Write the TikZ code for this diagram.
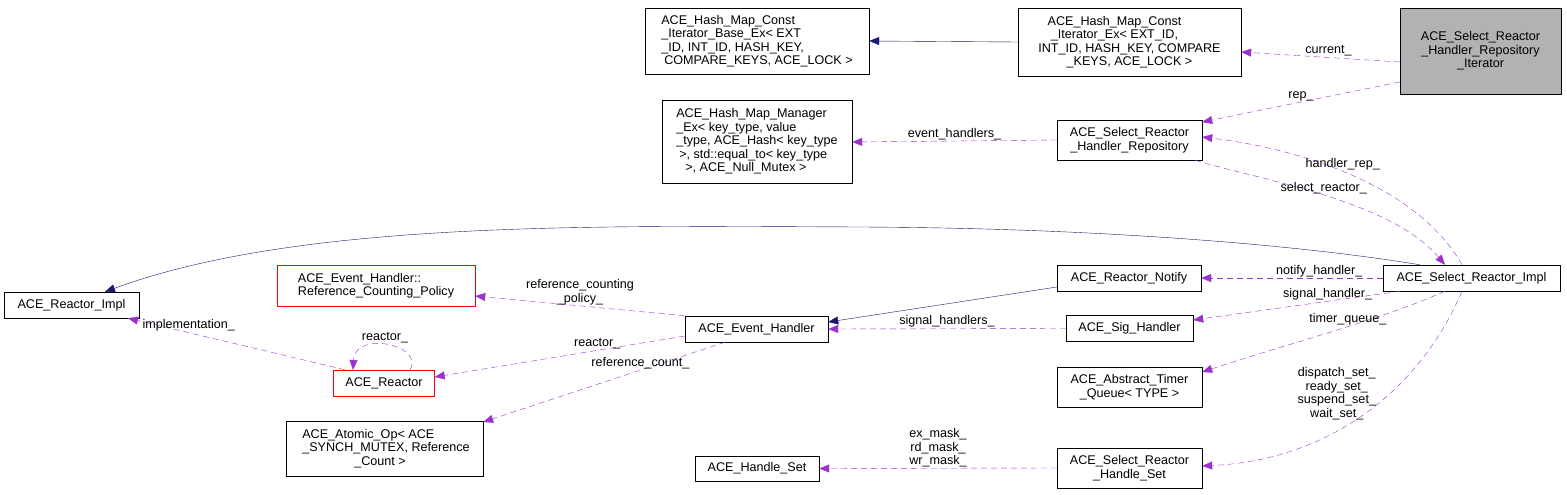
\documentclass[tikz,border=0pt]{standalone}
\usepackage{fontspec}
\setmainfont{Liberation Sans}
\usetikzlibrary{arrows.meta}
\definecolor{pur}{HTML}{9A32CD}
\definecolor{nav}{HTML}{191970}
\newcommand{\lsp}{\hspace*{3pt}}
\begin{document}
\begin{tikzpicture}[x=1pt,y=-1pt,
  box/.style={draw,fill=white,align=center,inner sep=1pt,font=\fontsize{12.6}{13.5}\selectfont},
  lbox/.style={box,align=left},
  use/.style={draw=pur,dashed,dash pattern=on 6pt off 4pt,-{Triangle[length=10pt,width=8pt]}},
  inh/.style={draw=nav,-{Triangle[length=10pt,width=8pt]}},
  lab/.style={font=\fontsize{12.6}{13.5}\selectfont,align=center,inner sep=1pt}]
\useasboundingbox (0,0) rectangle (1567,495);
\node[lbox,minimum width=224,minimum height=66] (hmcib) at (757,41) {ACE\_Hash\_Map\_Const\\\_Iterator\_Base\_Ex< EXT\\\_ID, INT\_ID, HASH\_KEY,\\\lsp COMPARE\_KEYS, ACE\_LOCK >};
\node[box,minimum width=223,minimum height=68] (hmci) at (1129.5,42) {\hspace*{-30pt}ACE\_Hash\_Map\_Const\\\hspace*{-30pt}\_Iterator\_Ex< EXT\_ID,\\ INT\_ID, HASH\_KEY, COMPARE\\\_KEYS, ACE\_LOCK >};
\node[box,fill=black!30,minimum width=161,minimum height=86] (srhri) at (1480.5,51) {ACE\_Select\_Reactor\\\_Handler\_Repository\\\_Iterator};
\node[lbox,minimum width=190,minimum height=83] (hmm) at (757,141.5) {ACE\_Hash\_Map\_Manager\\\_Ex< key\_type, value\\\_type, ACE\_Hash< key\_type\\\lsp >, std::equal\_to< key\_type\\\lsp\lsp\lsp >, ACE\_Null\_Mutex >};
\node[box,minimum width=145,minimum height=40] (srhr) at (1129.5,140) {ACE\_Select\_Reactor\\\_Handler\_Repository};
\node[box,minimum width=135,minimum height=26] (ri) at (71.5,305) {ACE\_Reactor\_Impl};
\node[lbox,draw=red,minimum width=198,minimum height=41] (ehrcp) at (376,285.5) {ACE\_Event\_Handler::\\Reference\_Counting\_Policy};
\node[box,minimum width=143,minimum height=26] (eh) at (756.5,329) {ACE\_Event\_Handler};
\node[box,minimum width=144,minimum height=26] (rn) at (1129,278) {ACE\_Reactor\_Notify};
\node[box,minimum width=177,minimum height=26] (sri) at (1471.5,278) {ACE\_Select\_Reactor\_Impl};
\node[box,minimum width=127,minimum height=26] (sh) at (1129.5,328.5) {ACE\_Sig\_Handler};
\node[box,draw=red,minimum width=101,minimum height=26] (r) at (384,383) {ACE\_Reactor};
\node[box,minimum width=145,minimum height=40] (atq) at (1129.5,387) {ACE\_Abstract\_Timer\\\_Queue< TYPE >};
\node[lbox,minimum width=197,minimum height=55] (ao) at (384.5,448.5) {\lsp ACE\_Atomic\_Op< ACE\\\lsp\_SYNCH\_MUTEX, Reference\\\hspace*{55pt}\_Count >};
\node[box,minimum width=124,minimum height=25] (hs) at (757,468.5) {ACE\_Handle\_Set};
\node[box,minimum width=145,minimum height=40] (srhs) at (1129.5,468) {ACE\_Select\_Reactor\\\_Handle\_Set};

\draw[inh] (hmci.west |- 0,42) -- (hmcib.east |- 0,41);
\draw[use] (srhri.west |- 0,62) -- node[lab,above,pos=0.45]{current\_} (hmci.east |- 0,52);
\draw[use] (srhri.west |- 0,82) -- node[lab,above,pos=0.5]{rep\_} (srhr.east |- 0,122);
\draw[use] (sri.north -| 1462,0) .. controls (1420,190) and (1310,150) .. node[lab,pos=0.55,above]{handler\_rep\_} (srhr.east |- 0,137);
\draw[use] (srhr.south -| 1195,0) .. controls (1260,180) and (1390,200) .. node[lab,pos=0.5,above]{select\_reactor\_} (sri.north -| 1445,0);
\draw[use] (srhr.west) -- node[lab,above]{event\_handlers\_} (hmm.east |- 0,142);
\draw[inh] (sri.north -| 1420,0) .. controls (1300,245) and (1100,228) .. (860,227) .. controls (600,226) and (300,220) .. (ri.north -| 105,0);
\draw[inh] (rn.west |- 0,287) -- (eh.east |- 0,322);
\draw[use] (sri.west |- 0,278) -- node[lab,above,pos=0.35]{notify\_handler\_} (rn.east);
\draw[use] (sri.south -| 1400,0) -- node[lab,above,pos=0.35]{signal\_handler\_} (sh.east |- 0,320);
\draw[use] (sh.west) -- node[lab,above]{signal\_handlers\_} (eh.east |- 0,329);
\draw[use] (eh.north west) -- node[lab,above,pos=0.5]{reference\_counting\\\_policy\_} (ehrcp.east |- 0,296);
\draw[use] (eh.west |- 0,336) -- node[lab,above,pos=0.35]{reactor\_} (r.east |- 0,377);
\draw[use] (r.north -| 410,0) .. controls (425,345) and (355,330) .. (353,370);
\node[lab] at (385,338) {reactor\_};
\draw[use] (r.north -| 345,0) -- node[lab,above,pos=0.72]{implementation\_} (ri.south -| 128,0);
\draw[use] (eh.south -| 725,0) -- node[lab,above,pos=0.35]{reference\_count\_} (ao.east |- 0,422);
\draw[use] (sri.south -| 1445,0) .. controls (1380,320) and (1300,340) .. node[lab,above,pos=0.45]{timer\_queue\_} (atq.east |- 0,372);
\draw[use] (sri.south -| 1462,0) .. controls (1420,390) and (1330,460) .. node[lab,pos=0.4,left=12pt]{dispatch\_set\_\\ready\_set\_\\suspend\_set\_\\wait\_set\_} (srhs.east |- 0,466);
\draw[use] (srhs.west) -- node[lab,above]{ex\_mask\_\\rd\_mask\_\\wr\_mask\_} (hs.east);
\end{tikzpicture}
\end{document}
